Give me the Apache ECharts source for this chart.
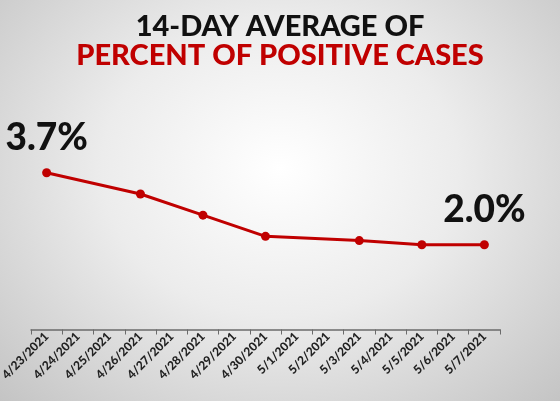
<!DOCTYPE html>
<html>
<head>
    <meta charset="utf-8">
    <title>14-Day Average of Percent of Positive Cases</title>
    <script src="https://cdn.jsdelivr.net/npm/echarts@6/dist/echarts.min.js"></script>
    <style>
        html, body { margin: 0; padding: 0; height: 100%; overflow: hidden; }
        #main {
            width: 560px;
            height: 401px;
            background: radial-gradient(ellipse at 50% 42%, #ffffff 0%, #ececec 45%, #c4c4c4 100%);
        }
    </style>
</head>
<body>
    <div id="main"></div>
    <script>
        const dates = ['4/23/2021', '4/24/2021', '4/25/2021', '4/26/2021', '4/27/2021',
            '4/28/2021', '4/29/2021', '4/30/2021', '5/1/2021', '5/2/2021',
            '5/3/2021', '5/4/2021', '5/5/2021', '5/6/2021', '5/7/2021'];
        // percent positive, null on days without a report
        const percents = [3.7, null, null, 3.2, null, 2.7, null, 2.2, null, null, 2.1, null, 2.0, null, 2.0];
        const labelled = ['4/23/2021', '5/7/2021'];

        const chart = echarts.init(document.getElementById('main'));
        const font = 'Lato, "Open Sans", sans-serif';

        chart.setOption({
            animation: false,
            title: [
                {
                    text: '14-DAY AVERAGE OF',
                    left: 'center', top: 7,
                    textStyle: { color: '#111', fontSize: 29, fontWeight: 900, fontFamily: font }
                },
                {
                    text: 'PERCENT OF POSITIVE CASES',
                    left: 'center', top: 36,
                    textStyle: { color: '#c00000', fontSize: 29, fontWeight: 900, fontFamily: font }
                }
            ],
            grid: { left: 31, right: 60, top: 75.4, bottom: 71.5, containLabel: false, outerBoundsMode: 'none' },
            xAxis: {
                type: 'category',
                data: dates,
                boundaryGap: true,
                axisLine: { lineStyle: { color: '#6b6b6b', width: 1.5 } },
                axisTick: { show: true, length: 5, alignWithLabel: false, lineStyle: { color: '#6b6b6b' } },
                axisLabel: {
                    interval: 0, rotate: 45, margin: 5,
                    color: '#222', fontSize: 12, fontWeight: 900, fontFamily: font
                }
            },
            yAxis: {
                type: 'value',
                min: 0, max: 6,
                show: false,
                splitLine: { show: false }
            },
            series: [{
                type: 'line',
                data: percents.map((v, i) => ({
                    value: v,
                    label: {
                        show: labelled.includes(dates[i]),
                        position: 'top',
                        distance: 12,
                        formatter: p => p.value.toFixed(1) + '%',
                        color: '#111', fontSize: 37, fontWeight: 900, fontFamily: font
                    }
                })),
                connectNulls: true,
                symbol: 'circle',
                symbolSize: 9,
                lineStyle: { color: '#c00000', width: 3 },
                itemStyle: { color: '#c00000' }
            }]
        });
    </script>
</body>
</html>
